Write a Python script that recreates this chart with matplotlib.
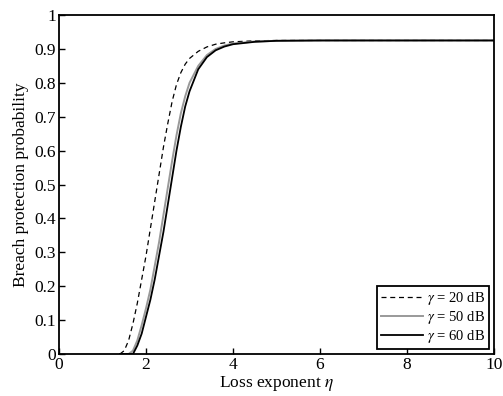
import matplotlib
matplotlib.use("Agg")
import matplotlib.pyplot as plt

eta = [1.4, 1.5, 1.6, 1.7, 1.8, 1.9, 2.0, 2.1, 2.2, 2.3, 2.4, 2.5, 2.6, 2.7, 2.8, 2.9, 3.0,
       3.2, 3.4, 3.6, 3.8, 4.0, 4.5, 5.0, 6.0, 8.0, 10.0]
p_20db = [0.0, 0.01, 0.04, 0.09, 0.15, 0.22, 0.29, 0.37, 0.45, 0.53, 0.61, 0.68, 0.745, 0.795, 0.83, 0.855, 0.872,
          0.893, 0.906, 0.914, 0.918, 0.921, 0.924, 0.925, 0.925, 0.925, 0.925]
p_50db = [0.0, 0.0, 0.0, 0.01, 0.04, 0.085, 0.135, 0.19, 0.26, 0.33, 0.41, 0.49, 0.57, 0.645, 0.71, 0.76, 0.80,
          0.85, 0.882, 0.9, 0.91, 0.916, 0.922, 0.924, 0.925, 0.925, 0.925]
p_60db = [0.0, 0.0, 0.0, 0.0, 0.025, 0.06, 0.11, 0.16, 0.22, 0.29, 0.36, 0.44, 0.52, 0.60, 0.67, 0.73, 0.775,
          0.84, 0.876, 0.896, 0.907, 0.914, 0.921, 0.924, 0.925, 0.925, 0.925]
labels = [r"$\gamma$ = 20 dB", r"$\gamma$ = 50 dB", r"$\gamma$ = 60 dB"]
xticks = [0, 2, 4, 6, 8, 10]
yticks = [0, 0.1, 0.2, 0.3, 0.4, 0.5, 0.6, 0.7, 0.8, 0.9, 1]
yticklabels = ["0", "0.1", "0.2", "0.3", "0.4", "0.5", "0.6", "0.7", "0.8", "0.9", "1"]

plt.rcParams["font.family"] = ["Liberation Serif", "DejaVu Serif"]
plt.rcParams["mathtext.fontset"] = "stix"

fig = plt.figure(figsize=(5.03, 3.96), dpi=100)
ax = fig.add_axes([0.1173, 0.106, 0.865, 0.856])

ax.plot(eta, p_20db, color="black", linestyle=(0, (4, 3)), linewidth=0.9, label=labels[0])
ax.plot(eta, p_50db, color="#999999", linestyle="-", linewidth=1.4, label=labels[1])
ax.plot(eta, p_60db, color="black", linestyle="-", linewidth=1.3, label=labels[2])

ax.set_xlim(0, 10)
ax.set_ylim(0, 1)
ax.set_xticks(xticks)
ax.set_xticklabels([str(t) for t in xticks])
ax.set_yticks(yticks)
ax.set_yticklabels(yticklabels)
ax.tick_params(direction="in", length=4, width=1, labelsize=12.5, pad=2)
for s in ax.spines.values():
    s.set_linewidth(1.3)

ax.set_xlabel(r"Loss exponent $\eta$", fontsize=12.5, labelpad=1)
ax.set_ylabel("Breach protection probability", fontsize=12.5, labelpad=4)

leg = ax.legend(loc="lower right", fontsize=10.5, frameon=True, fancybox=False,
                edgecolor="black", framealpha=1, handlelength=2.9, handletextpad=0.3,
                borderpad=0.25, labelspacing=0.15, borderaxespad=0.35)
leg.get_frame().set_linewidth(1.3)

fig.savefig("out.png", dpi=100)
